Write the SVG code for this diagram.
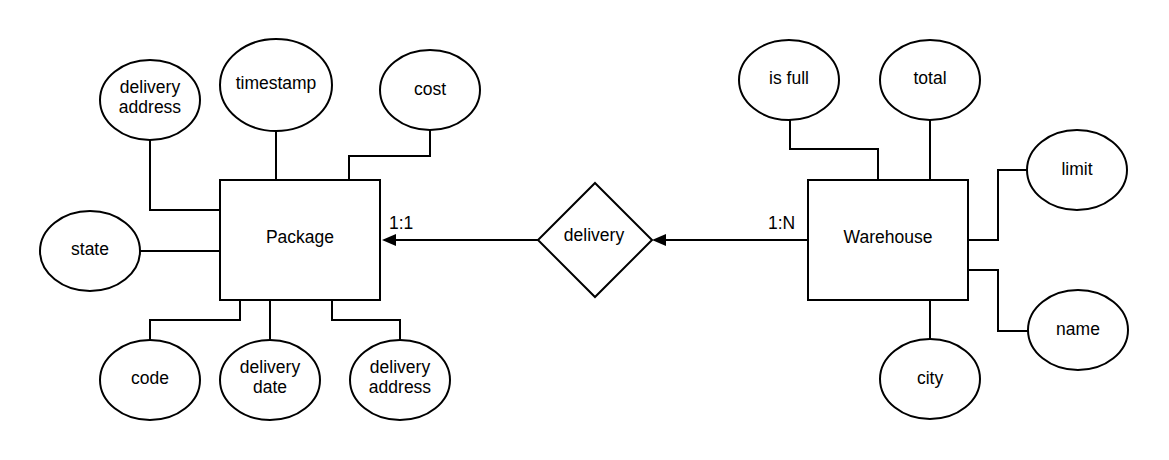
<svg xmlns="http://www.w3.org/2000/svg" width="1169" height="460" viewBox="0 0 1169 460">
  <style>
    .shape { fill: #ffffff; stroke: #000000; stroke-width: 2; }
    .wire { fill: none; stroke: #000000; stroke-width: 2; }
    text { font-family: "Liberation Sans", Arial, sans-serif; font-size: 17.5px; fill: #000000; text-anchor: middle; }
    .card { text-anchor: start; }
  </style>
  <defs>
    <marker id="arrow" markerUnits="userSpaceOnUse" viewBox="0 -6 14 12" refX="0" refY="0" markerWidth="14" markerHeight="12" orient="auto">
      <path d="M0,-6 L14,0 L0,6 Z" fill="#000000"/>
    </marker>
  </defs>
  <rect width="1169" height="460" fill="#ffffff"/>

  <!-- connectors -->
  <g id="connectors">
    <!-- Package attributes -->
    <path class="wire" d="M150,140 V210 H220"/>
    <path class="wire" d="M276,132 V180"/>
    <path class="wire" d="M430,130 V156 H349 V180"/>
    <path class="wire" d="M140,251 H220"/>
    <path class="wire" d="M150,340 V320 H240 V300"/>
    <path class="wire" d="M270,300 V340"/>
    <path class="wire" d="M400,340 V320 H332 V300"/>
    <!-- Warehouse attributes -->
    <path class="wire" d="M790,120 V149 H878 V180"/>
    <path class="wire" d="M930,120 V180"/>
    <path class="wire" d="M1027,170 H998 V240 H968"/>
    <path class="wire" d="M968,270 H998 V331 H1028"/>
    <path class="wire" d="M930,300 V339"/>
    <!-- relationship links -->
    <path class="wire" d="M538,240 H396" marker-end="url(#arrow)"/>
    <path class="wire" d="M808,240 H666" marker-end="url(#arrow)"/>
    <text class="card" x="389" y="229">1:1</text>
    <text class="card" x="768" y="229">1:N</text>
  </g>

  <!-- entities -->
  <g id="package">
    <rect class="shape" x="220" y="180" width="160" height="120"/>
    <text x="300" y="243">Package</text>
  </g>
  <g id="warehouse">
    <rect class="shape" x="808" y="180" width="160" height="120"/>
    <text x="888" y="243">Warehouse</text>
  </g>

  <!-- relationship -->
  <g id="delivery">
    <polygon class="shape" points="595,183 652,240 595,297 538,240"/>
    <text x="594" y="241">delivery</text>
  </g>

  <!-- Package attributes -->
  <g id="pkg-delivery-address">
    <ellipse class="shape" cx="150" cy="100" rx="50" ry="40"/>
    <text x="150" y="93">delivery</text>
    <text x="150" y="113">address</text>
  </g>
  <g id="pkg-timestamp">
    <ellipse class="shape" cx="276" cy="85" rx="56" ry="46"/>
    <text x="276" y="89">timestamp</text>
  </g>
  <g id="pkg-cost">
    <ellipse class="shape" cx="430" cy="90" rx="50" ry="40"/>
    <text x="430" y="95">cost</text>
  </g>
  <g id="pkg-state">
    <ellipse class="shape" cx="90" cy="251" rx="50" ry="40"/>
    <text x="90" y="255">state</text>
  </g>
  <g id="pkg-code">
    <ellipse class="shape" cx="150" cy="380" rx="50" ry="40"/>
    <text x="150" y="384">code</text>
  </g>
  <g id="pkg-delivery-date">
    <ellipse class="shape" cx="270" cy="380" rx="50" ry="40"/>
    <text x="270" y="373">delivery</text>
    <text x="270" y="393">date</text>
  </g>
  <g id="pkg-delivery-address-2">
    <ellipse class="shape" cx="400" cy="380" rx="50" ry="40"/>
    <text x="400" y="373">delivery</text>
    <text x="400" y="393">address</text>
  </g>

  <!-- Warehouse attributes -->
  <g id="wh-is-full">
    <ellipse class="shape" cx="789" cy="80" rx="50" ry="40"/>
    <text x="789" y="84">is full</text>
  </g>
  <g id="wh-total">
    <ellipse class="shape" cx="930" cy="80" rx="50" ry="40"/>
    <text x="930" y="84">total</text>
  </g>
  <g id="wh-limit">
    <ellipse class="shape" cx="1077" cy="170" rx="50" ry="40"/>
    <text x="1077" y="175">limit</text>
  </g>
  <g id="wh-name">
    <ellipse class="shape" cx="1078" cy="330" rx="50" ry="40"/>
    <text x="1078" y="335">name</text>
  </g>
  <g id="wh-city">
    <ellipse class="shape" cx="930" cy="379" rx="50" ry="40"/>
    <text x="930" y="384">city</text>
  </g>
</svg>
